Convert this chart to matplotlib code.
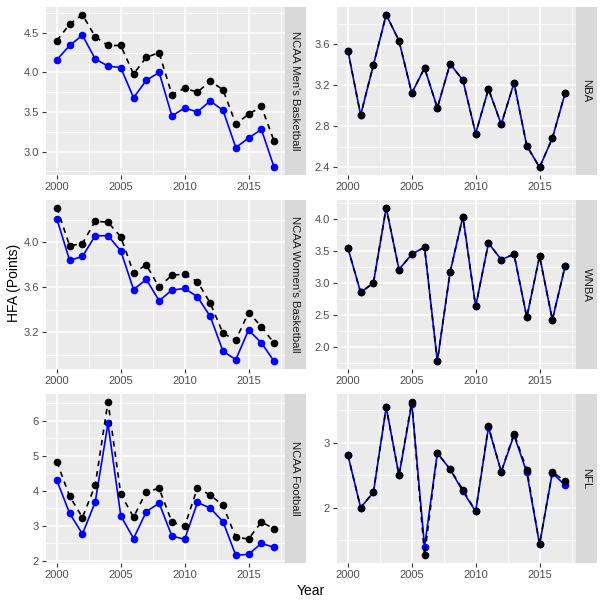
import numpy as np
import matplotlib
matplotlib.use("Agg")
import matplotlib.pyplot as plt
from matplotlib.ticker import MultipleLocator, AutoMinorLocator, FormatStrFormatter

plt.rcParams['font.family'] = ['Liberation Sans', 'DejaVu Sans']

years = list(range(2000, 2018))

# black dashed series / blue solid series, per league
mens_black = [4.40, 4.61, 4.73, 4.45, 4.34, 4.34, 3.98, 4.19, 4.25, 3.72, 3.80, 3.75, 3.89, 3.78, 3.35, 3.47, 3.57, 3.13]
mens_blue = [4.16, 4.34, 4.47, 4.17, 4.08, 4.06, 3.68, 3.90, 4.00, 3.45, 3.55, 3.50, 3.64, 3.52, 3.05, 3.17, 3.28, 2.80]

nba_black = [3.54, 2.91, 3.40, 3.89, 3.635, 3.125, 3.37, 2.98, 3.41, 3.25, 2.73, 3.165, 2.82, 3.225, 2.61, 2.40, 2.685, 3.125]
nba_blue = [3.54, 2.91, 3.40, 3.89, 3.635, 3.125, 3.37, 2.98, 3.41, 3.25, 2.73, 3.165, 2.82, 3.225, 2.61, 2.40, 2.685, 3.125]

womens_black = [4.31, 3.97, 3.99, 4.19, 4.18, 4.05, 3.73, 3.80, 3.60, 3.71, 3.715, 3.65, 3.46, 3.19, 3.13, 3.375, 3.25, 3.10]
womens_blue = [4.21, 3.84, 3.875, 4.06, 4.06, 3.925, 3.58, 3.67, 3.48, 3.575, 3.59, 3.515, 3.34, 3.03, 2.955, 3.22, 3.105, 2.94]

wnba_black = [3.55, 2.85, 3.00, 4.18, 3.21, 3.45, 3.56, 1.77, 3.17, 4.04, 2.63, 3.625, 3.365, 3.45, 2.46, 3.42, 2.42, 3.265]
wnba_blue = [3.55, 2.85, 3.00, 4.18, 3.21, 3.45, 3.56, 1.77, 3.17, 4.04, 2.63, 3.625, 3.365, 3.45, 2.46, 3.42, 2.42, 3.265]

fb_black = [4.82, 3.84, 3.23, 4.15, 6.54, 3.90, 3.24, 3.97, 4.06, 3.10, 2.98, 4.08, 3.87, 3.58, 2.66, 2.62, 3.10, 2.91]
fb_blue = [4.29, 3.35, 2.76, 3.67, 5.92, 3.28, 2.63, 3.40, 3.64, 2.70, 2.61, 3.66, 3.50, 3.11, 2.15, 2.18, 2.49, 2.38]

nfl_black = [2.815, 2.005, 2.24, 3.55, 2.50, 3.635, 1.27, 2.845, 2.595, 2.28, 1.945, 3.255, 2.555, 3.145, 2.59, 1.44, 2.555, 2.41]
nfl_blue = [2.815, 2.005, 2.24, 3.55, 2.50, 3.605, 1.405, 2.845, 2.595, 2.255, 1.945, 3.24, 2.555, 3.12, 2.545, 1.44, 2.54, 2.345]

labels = ["NCAA Men's Basketball", "NBA", "NCAA Women's Basketball", "WNBA", "NCAA Football", "NFL"]
blacks = [mens_black, nba_black, womens_black, wnba_black, fb_black, nfl_black]
blues = [mens_blue, nba_blue, womens_blue, wnba_blue, fb_blue, nfl_blue]
ystep = [0.5, 0.4, 0.4, 0.5, 1, 1]
yfmt = ['%.1f', '%.1f', '%.1f', '%.1f', '%d', '%d']

W = 605.0
fig = plt.figure(figsize=(6.05, 6.05), dpi=100)

col_x = [46, 337]
panel_w = 239
strip_w = 21
row_y = [(7, 175), (200, 369), (394, 563)]

for k in range(6):
    r, c = k // 2, k % 2
    x0 = col_x[c]
    top, bot = row_y[r]
    ax = fig.add_axes([x0 / W, 1 - bot / W, panel_w / W, (bot - top) / W])
    sax = fig.add_axes([(x0 + panel_w) / W, 1 - bot / W, strip_w / W, (bot - top) / W])

    ax.set_facecolor('#EBEBEB')
    for s in ax.spines.values():
        s.set_visible(False)
    ax.set_axisbelow(True)

    ax.plot(years, blues[k], color='blue', lw=1.2, zorder=3)
    ax.plot(years, blues[k], 'o', color='blue', ms=4.5, zorder=4)
    ax.plot(years, blacks[k], color='black', lw=1.2, dashes=(3.3, 3.0), zorder=5)
    ax.plot(years, blacks[k], 'o', color='black', ms=4.5, zorder=6)

    allv = blacks[k] + blues[k]
    lo, hi = min(allv), max(allv)
    pad = 0.05 * (hi - lo)
    ax.set_ylim(lo - pad, hi + pad)
    ax.set_xlim(2000 - 0.85, 2017 + 0.85)

    ax.xaxis.set_major_locator(MultipleLocator(5))
    ax.xaxis.set_minor_locator(AutoMinorLocator(2))
    ax.yaxis.set_major_locator(MultipleLocator(ystep[k]))
    ax.yaxis.set_minor_locator(AutoMinorLocator(2))
    ax.yaxis.set_major_formatter(FormatStrFormatter(yfmt[k]))

    ax.grid(which='major', color='white', lw=1.1)
    ax.grid(which='minor', color='white', lw=0.55)
    ax.tick_params(which='major', length=3, width=0.8, color='#333333',
                   labelcolor='#4D4D4D', labelsize=8, pad=2)
    ax.tick_params(which='minor', length=0)

    sax.set_facecolor('#D9D9D9')
    sax.set_xticks([])
    sax.set_yticks([])
    for s in sax.spines.values():
        s.set_visible(False)
    sax.text(0.5, 0.5, labels[k], rotation=-90, ha='center', va='center',
             fontsize=8.2, color='#1A1A1A', transform=sax.transAxes)

fig.text(14 / W, 1 - 283 / W, 'HFA (Points)', rotation=90, ha='center', va='center',
         fontsize=10, color='black')
fig.text(311 / W, 1 - 591 / W, 'Year', ha='center', va='center', fontsize=10, color='black')

fig.savefig('out.png', dpi=100, facecolor='white')
